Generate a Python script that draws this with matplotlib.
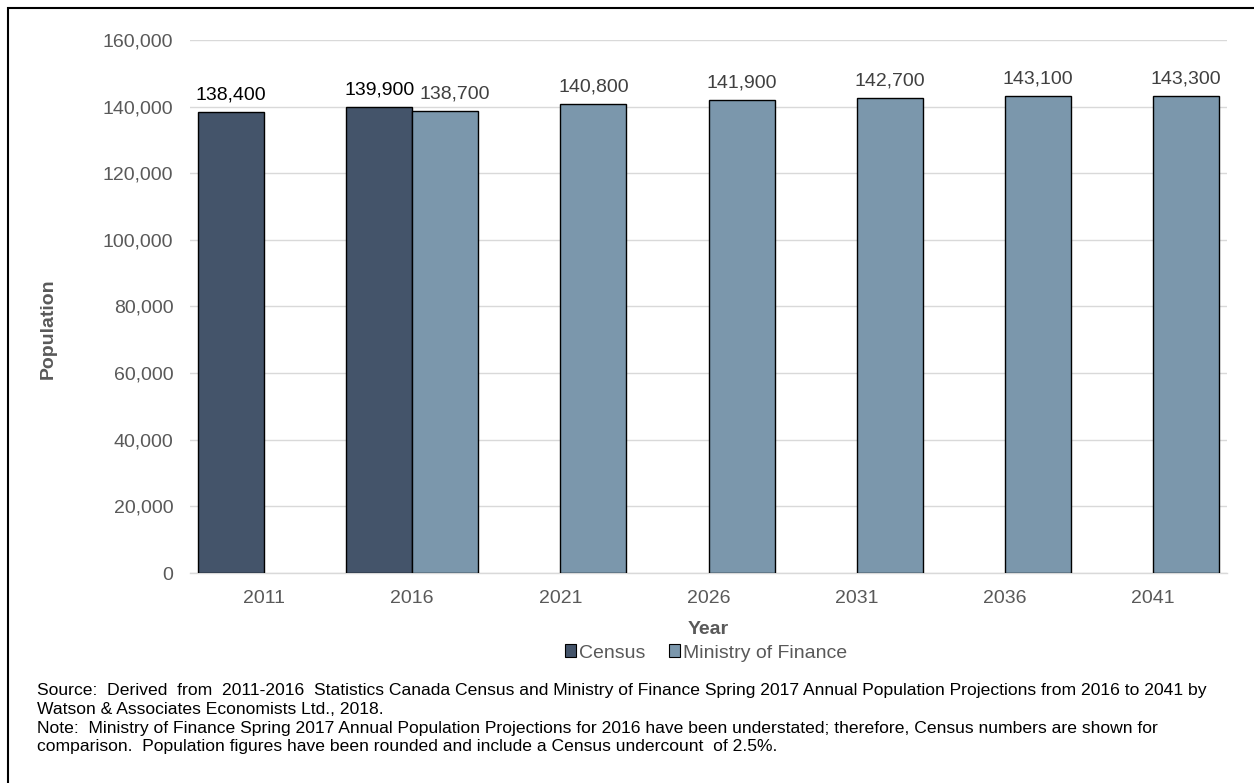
import matplotlib
matplotlib.use("Agg")
import matplotlib.pyplot as plt
from matplotlib.patches import Rectangle, Patch
import numpy as np

plt.rcParams['font.family'] = ['Liberation Sans', 'DejaVu Sans']

years = ["2011", "2016", "2021", "2026", "2031", "2036", "2041"]
census = [138400, 139900, None, None, None, None, None]
mof = [None, 138700, 140800, 141900, 142700, 143100, 143300]
yticks = [0, 20000, 40000, 60000, 80000, 100000, 120000, 140000, 160000]

c_census = "#44546A"
c_mof = "#7B97AC"

W, H = 1254, 783
fig = plt.figure(figsize=(W / 100, H / 100), dpi=100)
ax = fig.add_axes([190 / W, 1 - 573 / H, 1037 / W, 533 / H])

x = np.arange(len(years))
bw = 66 / 148

for i, v in enumerate(census):
    if v is not None:
        ax.bar(x[i] - bw / 2, v, width=bw, color=c_census, edgecolor="black",
               linewidth=1, zorder=3)
        ax.annotate(f"{v:,}", (x[i] - bw / 2, v), xytext=(0, 6), textcoords="offset points",
                    ha="center", va="bottom", fontsize=14, color="black")
for i, v in enumerate(mof):
    if v is not None:
        ax.bar(x[i] + bw / 2, v, width=bw, color=c_mof, edgecolor="black",
               linewidth=1, zorder=3)
        dx = 7 if census[i] is not None else 0
        ax.annotate(f"{v:,}", (x[i] + bw / 2, v), xytext=(dx, 6), textcoords="offset points",
                    ha="center", va="bottom", fontsize=14, color="#404040")

ax.set_xlim(-0.5, len(years) - 0.5)
ax.set_ylim(0, 160000)
ax.set_yticks(yticks)
ax.set_yticklabels([f"{t:,}" for t in yticks])
ax.set_xticks(x)
ax.set_xticklabels(years)
ax.tick_params(axis="both", length=0, labelsize=14, colors="#595959")
ax.tick_params(axis="y", pad=12)
ax.tick_params(axis="x", pad=12)
ax.grid(axis="y", color="#D9D9D9", linewidth=1, zorder=0)
for s in ["top", "right", "left"]:
    ax.spines[s].set_visible(False)
ax.spines["bottom"].set_color("#D9D9D9")
ax.spines["bottom"].set_linewidth(1)

fig.text(48 / W, 1 - 329 / H, "Population", rotation=90, ha="center", va="center",
         fontsize=14, fontweight="bold", color="#595959")
fig.text(708 / W, 1 - 630 / H, "Year", ha="center", va="center",
         fontsize=14, fontweight="bold", color="#595959")

handles = [Patch(facecolor=c_census, edgecolor="black", linewidth=0.8, label="Census"),
           Patch(facecolor=c_mof, edgecolor="black", linewidth=0.8, label="Ministry of Finance")]
fig.legend(handles=handles, loc="center", bbox_to_anchor=(706 / W, 1 - 653 / H),
           ncol=2, frameon=False, fontsize=14, handlelength=0.6, handleheight=0.6,
           handletextpad=0.15, columnspacing=1.2, labelcolor="#595959",
           borderpad=0, borderaxespad=0)

notes = [
    "Source:  Derived  from  2011-2016  Statistics Canada Census and Ministry of Finance Spring 2017 Annual Population Projections from 2016 to 2041 by",
    "Watson & Associates Economists Ltd., 2018.",
    "Note:  Ministry of Finance Spring 2017 Annual Population Projections for 2016 have been understated; therefore, Census numbers are shown for",
    "comparison.  Population figures have been rounded and include a Census undercount  of 2.5%.",
]
for k, line in enumerate(notes):
    fig.text(37 / W, 1 - (690 + 19 * k) / H, line, ha="left", va="center",
             fontsize=12.6, color="black")

fig.patches.append(Rectangle((8 / W, -0.1), 1.2, 1 - 8 / H + 0.1, transform=fig.transFigure,
                             fill=False, edgecolor="black", linewidth=1.5))

fig.savefig("out.png", dpi=100)
